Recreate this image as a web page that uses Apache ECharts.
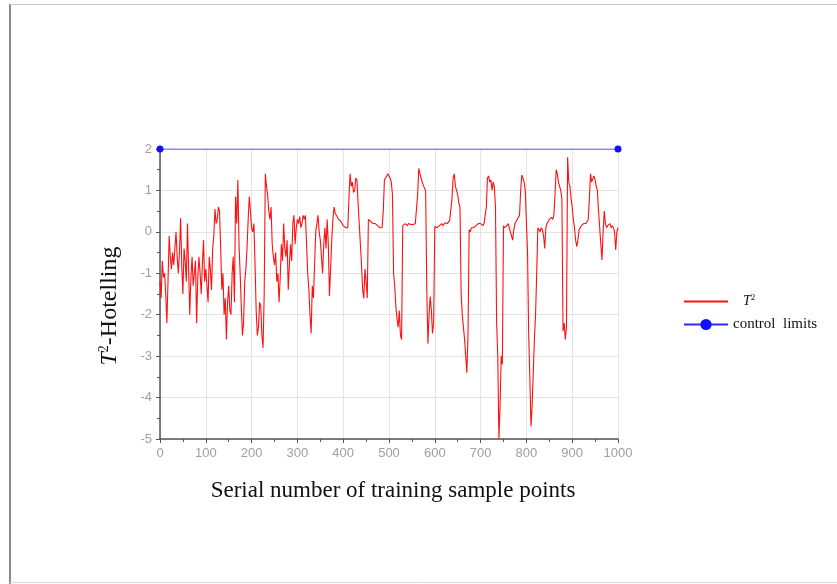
<!DOCTYPE html>
<html>
<head>
<meta charset="utf-8">
<script src="https://cdn.jsdelivr.net/npm/echarts@6/dist/echarts.min.js"></script>
<style>
html,body{margin:0;padding:0;background:#fff;}
#chart{width:837px;height:584px;}
</style>
</head>
<body>
<div id="chart"></div>
<script>
// Sample step of the serial number axis (one value every 2.5 training samples)
const sampleStep = 2.5;
// T^2 statistic values, samples 0..1000 every 2.5
const t2Values = [
  -1.2, -1.6, -0.7, -1.1, -1.0, -1.5, -2.2, -1.2, -0.1, -0.6,
  -0.9, -0.5, -0.8, -0.4, 0.0, -0.6, -1.0, -0.5, 0.33, -0.8,
  -1.5, -0.4, -0.7, -1.2, 0.2, -0.9, -2.0, -1.1, -0.6, -1.3,
  -1.0, -0.7, -2.2, -1.1, -0.6, -1.0, -1.5, -0.8, -0.2, -1.2,
  -0.9, -1.3, -1.7, -0.6, -0.9, -1.4, -0.4, -0.1, 0.55, 0.2,
  0.3, 0.6, 0.5, -0.4, -1.4, -1.0, -2.0, -1.6, -2.6, -1.7,
  -1.3, -1.9, -2.0, -1.0, -0.6, -1.7, 0.85, 0.2, 1.25, -0.3,
  -1.0, -1.8, -2.5, -2.2, -1.2, -0.9, -0.4, 0.3, 0.85, 0.5,
  0.1, 0.0, 0.2, -0.8, -1.9, -2.5, -2.3, -1.7, -1.8, -2.5,
  -2.8, -1.5, 1.4, 1.1, 0.9, 0.5, 0.3, 0.6, -0.3, -0.6,
  -0.8, -0.5, -1.2, -1.0, -1.7, -1.1, -0.3, -0.7, 0.2, -0.4,
  -0.6, -0.2, -1.4, -0.8, -0.3, -0.7, 0.2, 0.4, -0.3, 0.1,
  0.3, 0.2, 0.37, 0.1, 0.2, 0.4, 0.3, 0.4, -0.3, -1.0,
  -1.4, -2.0, -2.45, -1.3, -1.6, -0.8, 0.0, 0.2, 0.4, 0.0,
  -0.2, -0.6, -1.0, -0.3, 0.1, -0.4, 0.3, -0.3, -1.55, -0.9,
  -0.2, 0.3, 0.6, 0.45, 0.4, 0.35, 0.3, 0.28, 0.25, 0.2,
  0.15, 0.12, 0.1, 0.12, 0.1, 0.8, 1.4, 1.1, 1.2, 0.95,
  1.0, 1.3, 1.25, 0.7, 0.2, -0.3, -0.8, -1.4, -1.6, -0.9,
  -1.2, -1.6, 0.3, 0.28, 0.25, 0.22, 0.2, 0.18, 0.2, 0.17,
  0.15, 0.12, 0.1, 0.1, 0.1, 0.5, 1.25, 1.3, 1.35, 1.4,
  1.37, 1.3, 1.2, 0.9, -1.0, -1.3, -1.8, -2.1, -2.3, -1.9,
  -2.5, -2.6, 0.15, 0.18, 0.2, 0.17, 0.15, 0.2, 0.2, 0.18,
  0.2, 0.17, 0.15, 0.2, 0.2, 0.9, 1.53, 1.4, 1.3, 1.2,
  1.17, 1.05, 1.0, -1.4, -2.7, -2.0, -1.56, -1.9, -2.45, -2.2,
  0.13, 0.1, 0.1, 0.12, 0.15, 0.18, 0.2, 0.15, 0.15, 0.22,
  0.25, 0.2, 0.2, 0.28, 0.25, 0.8, 1.3, 1.4, 1.1, 1.0,
  0.9, 0.7, 0.6, -1.5, -2.0, -2.3, -2.6, -3.0, -3.4, -2.5,
  0.05, 0.0, 0.1, 0.08, 0.1, 0.12, 0.15, 0.17, 0.2, 0.18,
  0.2, 0.17, 0.15, 0.2, 0.2, 0.6, 1.3, 1.35, 1.2, 1.25,
  1.0, 1.2, 1.1, 0.6, -2.2, -3.0, -5.0, -4.2, -3.0, -3.2,
  0.15, 0.1, 0.1, 0.15, 0.2, 0.1, 0.0, -0.1, -0.2, 0.05,
  0.2, 0.25, 0.3, 0.35, 0.4, 1.0, 1.37, 1.3, 1.2, 1.0,
  1.0, -0.5, -2.5, -3.5, -4.7, -4.2, -3.4, -2.6, -2.0, -1.0,
  0.1, 0.05, 0.0, 0.1, 0.05, -0.1, -0.4, 0.1, 0.2, 0.25,
  0.3, 0.3, 0.35, 0.3, 0.4, 0.9, 1.5, 1.4, 1.2, 1.1,
  1.0, 0.8, -2.4, -2.2, -2.6, -2.3, 1.8, 1.2, 1.1, 0.8,
  0.6, 0.3, 0.1, -0.2, -0.36, -0.2, 0.05, 0.1, 0.15, 0.18,
  0.2, 0.22, 0.2, 0.25, 0.3, 0.8, 1.4, 1.2, 1.2, 1.35,
  1.25, 1.1, 1.0, 0.5, 0.1, -0.3, -0.68, 0.0, 0.5, 0.2,
  0.1, 0.15, 0.15, 0.2, 0.1, 0.15, 0.1, 0.0, -0.44, 0.0,
  0.1
];
// Control limit line endpoints
const limitX = [0, 1000];
const limitY = [2, 2];
// Axis ranges / ticks
const xRange = [0, 1000];
const xTickStep = 100;
const yRange = [-5, 2];
const yTickStep = 1;

const t2Data = t2Values.map((v, i) => [i * sampleStep, v]);
const limitData = limitX.map((x, i) => [x, limitY[i]]);

const chart = echarts.init(document.getElementById('chart'), null, {renderer: 'canvas'});
const serif = '"Liberation Serif", "Times New Roman", serif';
function axisCommon() {
  return {
    axisLine: {show: true, onZero: false, lineStyle: {color: '#555', width: 1.5}},
    axisTick: {show: true, length: 4, lineStyle: {color: '#555'}},
    minorTick: {show: true, splitNumber: 2, length: 3, lineStyle: {color: '#555'}},
    splitLine: {show: true, lineStyle: {color: '#e4e4e4', width: 1}},
    axisLabel: {color: '#a0a0a0', fontSize: 13, fontFamily: '"Liberation Sans", Arial, sans-serif', margin: 8,
      formatter: function (v) { return String(v); }}
  };
}

chart.setOption({
  animation: false,
  backgroundColor: '#fff',
  grid: {left: 160, right: 219, top: 149, bottom: 145, containLabel: false},
  xAxis: Object.assign({
    type: 'value', min: xRange[0], max: xRange[1], interval: xTickStep,
    name: 'Serial number of training sample points',
    nameLocation: 'middle', nameGap: 40,
    nameTextStyle: {fontFamily: serif, fontSize: 23, color: '#111', padding: [0, 0, 0, 8]}
  }, axisCommon()),
  yAxis: Object.assign({
    type: 'value', min: yRange[0], max: yRange[1], interval: yTickStep
  }, axisCommon()),
  legend: {
    orient: 'vertical', left: 678, top: 288,
    itemWidth: 44, itemHeight: 14, itemGap: 8,
    data: [
      {name: 'T2', itemStyle: {opacity: 0}},
      {name: 'control limits'}
    ],
    formatter: function (name) {
      if (name === 'T2') return '{sp|}{i|T}{s|2}';
      return '{n|control  limits}';
    },
    textStyle: {
      fontFamily: serif, fontSize: 15, color: '#111',
      rich: {
        sp: {width: 10},
        i: {fontFamily: serif, fontSize: 14, fontStyle: 'italic', color: '#111'},
        s: {fontFamily: serif, fontSize: 9, color: '#111', verticalAlign: 'top', padding: [0, 0, 8, 0]},
        n: {fontFamily: serif, fontSize: 15, color: '#111'}
      }
    }
  },
  graphic: [
    {type: 'line', shape: {x1: 10, y1: 4, x2: 10, y2: 584}, style: {stroke: '#8a8a8a', lineWidth: 2}, silent: true},
    {type: 'line', shape: {x1: 10, y1: 4.5, x2: 837, y2: 4.5}, style: {stroke: '#c4c4c4', lineWidth: 1}, silent: true},
    {type: 'line', shape: {x1: 10, y1: 582.5, x2: 837, y2: 582.5}, style: {stroke: '#d8d8d8', lineWidth: 1}, silent: true},
    {
      type: 'text', x: 110, y: 306, rotation: Math.PI / 2, silent: true,
      style: {
        text: '{i|T}{s|2}{n|-Hotelling}',
        align: 'center', verticalAlign: 'middle',
        font: '24px ' + serif, fill: '#111',
        rich: {
          i: {fontFamily: serif, fontSize: 24, fontStyle: 'italic', fill: '#111'},
          s: {fontFamily: serif, fontSize: 14, fill: '#111', verticalAlign: 'top', padding: [0, 0, 12, 0]},
          n: {fontFamily: serif, fontSize: 24, fill: '#111'}
        }
      }
    }
  ],
  series: [
    {
      name: 'T2', type: 'line', data: t2Data,
      symbol: 'none', lineStyle: {color: '#ff1010', width: 1.1}, itemStyle: {color: '#ff1010'},
      z: 3
    },
    {
      name: 'control limits', type: 'line', data: limitData,
      symbol: 'circle', symbolSize: 7, showSymbol: true,
      lineStyle: {color: '#2a2aff', width: 1.2}, itemStyle: {color: '#1010ff'},
      z: 4
    }
  ]
});
</script>
</body>
</html>
